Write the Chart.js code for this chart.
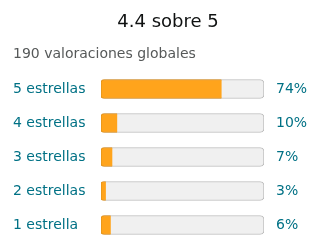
<!DOCTYPE html>
<html>
<head>
<meta charset="utf-8">
<script src="https://cdn.jsdelivr.net/npm/chart.js@4/dist/chart.umd.min.js"></script>
<style>
  html, body { margin: 0; padding: 0; background: #fff; }
  #wrap { width: 320px; height: 252px; }
</style>
</head>
<body>
<div id="wrap"><canvas id="Grafik" width="320" height="252"></canvas></div>
<script>
const etiquetas   = ['5 estrellas', '4 estrellas', '3 estrellas', '2 estrellas', '1 estrella'];
const porcentajes = [74, 10, 7, 3, 6];
const fondo       = [100, 100, 100, 100, 100];
const textoPct    = porcentajes.map(v => v + '%');

const fuente = 'DejaVu Sans';

// sin relleno vertical extra de las etiquetas
function ajustarEje(ancho) {
    return function (scale) {
        scale.width = ancho;
        scale.paddingTop = 0;
        scale.paddingBottom = 0;
    };
}

const grafik = new Chart(document.getElementById('Grafik'), {
    type: 'bar',
    data: {
        labels: etiquetas,
        datasets: [{
            label: 'valor',
            data: porcentajes,
            backgroundColor: '#ffa41c',
            borderColor: '#e3931b',
            borderWidth: { top: 1, bottom: 1, left: 1, right: 0 },
            borderSkipped: false,
            borderRadius: { topLeft: 3, bottomLeft: 3, topRight: 0, bottomRight: 0 },
            barThickness: 19,
            grouped: false,
            order: 1
        }, {
            label: 'fondo',
            data: fondo,
            backgroundColor: '#f0f0f0',
            borderColor: '#bdbdbd',
            borderWidth: 1,
            borderSkipped: false,
            borderRadius: 4,
            barThickness: 19,
            grouped: false,
            order: 2
        }]
    },
    options: {
        indexAxis: 'y',
        responsive: false,
        animation: false,
        // derecha negativa: centra el titulo como en la referencia
        layout: { padding: { left: 13, right: -3, top: 0, bottom: 10 } },
        plugins: {
            legend: { display: false },
            tooltip: { enabled: false },
            title: {
                display: true,
                text: '4.4 sobre 5',
                color: '#0f1111',
                font: { family: fuente, size: 18, weight: 'normal' },
                padding: { top: 12, bottom: 0 }
            },
            subtitle: {
                display: true,
                text: '190 valoraciones globales',
                align: 'start',
                color: '#565959',
                font: { family: fuente, size: 14, weight: 'normal' },
                padding: { top: 12, bottom: 9.6 }
            }
        },
        scales: {
            x: { display: false, min: 0, max: 100 },
            y: {
                position: 'left',
                grid: { display: false, drawTicks: false },
                border: { display: false },
                ticks: {
                    crossAlign: 'far',
                    padding: 0,
                    color: '#007185',
                    font: { family: fuente, size: 14 }
                },
                afterFit: ajustarEje(88)
            },
            y2: {
                type: 'category',
                display: true,
                position: 'right',
                labels: textoPct,
                offset: true,
                grid: { display: false, drawTicks: false },
                border: { display: false },
                ticks: {
                    crossAlign: 'near',
                    padding: 12,
                    color: '#007185',
                    font: { family: fuente, size: 14 }
                },
                afterFit: ajustarEje(59)
            }
        }
    }
});
</script>
</body>
</html>
